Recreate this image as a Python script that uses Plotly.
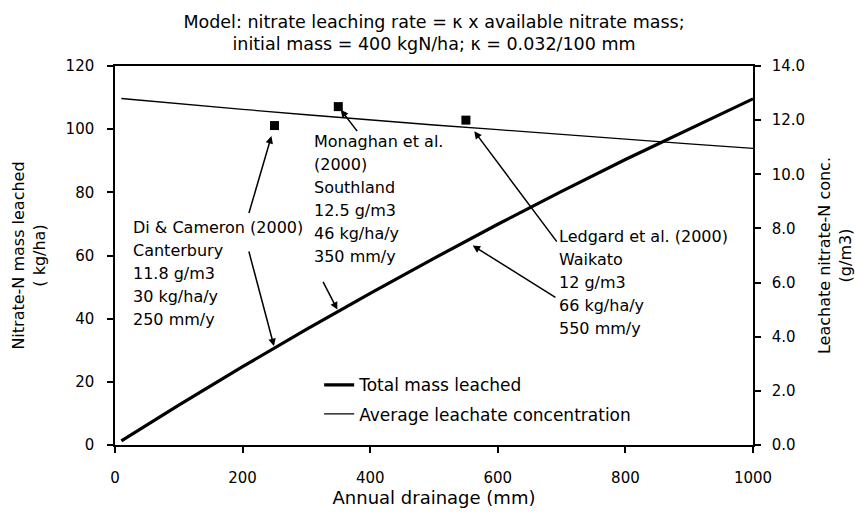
import numpy as np
import plotly.graph_objects as go

# Model curves
drainage_mm = [10, 100, 200, 300, 400, 500, 600, 700, 800, 900, 1000]
total_mass_leached = [1.3, 12.6, 24.8, 36.6, 48.0, 59.1, 69.9, 80.3, 90.4, 100.1, 109.6]
avg_leachate_conc = [12.8, 12.6, 12.4, 12.2, 12.0, 11.82, 11.65, 11.47, 11.3, 11.12, 10.96]

# Field observations
obs_names = ["Di & Cameron (2000)", "Monaghan et al. (2000)", "Ledgard et al. (2000)"]
obs_drainage = [250, 350, 550]
obs_conc = [11.8, 12.5, 12.0]

# Annotation text blocks
label_di = ["Di & Cameron (2000)", "Canterbury", "11.8 g/m3", "30 kg/ha/y", "250 mm/y"]
label_mon = ["Monaghan et al.", "(2000)", "Southland", "12.5 g/m3", "46 kg/ha/y", "350 mm/y"]
label_led = ["Ledgard et al. (2000)", "Waikato", "12 g/m3", "66 kg/ha/y", "550 mm/y"]

x_ticks = [0, 200, 400, 600, 800, 1000]
y_ticks = [0, 20, 40, 60, 80, 100, 120]
y2_ticks = [0, 2, 4, 6, 8, 10, 12, 14]

FONT = "DejaVu Sans, Arial, sans-serif"

fig = go.Figure()
fig.add_trace(go.Scatter(x=drainage_mm, y=total_mass_leached, mode="lines",
                         name="Total mass leached", line=dict(color="black", width=3.2),
                         legendgroup="a"))
fig.add_trace(go.Scatter(x=drainage_mm, y=avg_leachate_conc, mode="lines", yaxis="y2",
                         name="Average leachate concentration", line=dict(color="black", width=1.3),
                         legendgroup="b"))
fig.add_trace(go.Scatter(x=obs_drainage, y=obs_conc, mode="markers", yaxis="y2",
                         marker=dict(symbol="square", size=9, color="black"),
                         showlegend=False, text=obs_names))

mass_at_obs = np.interp(obs_drainage, drainage_mm, total_mass_leached)

annotations = []
# text blocks (left aligned, one annotation per line)
blocks = [(label_di, 25, 69.0), (label_mon, 309, 96.0), (label_led, 693, 66.0)]
for lines, bx, by in blocks:
    for i, t in enumerate(lines):
        annotations.append(dict(x=bx, y=by, xref="x", yref="y", text=t, showarrow=False,
                                xanchor="left", yanchor="middle", yshift=-23 * i,
                                font=dict(family=FONT, size=16, color="black")))

# arrows: (x, y, yref, ax, ay, standoff)
arrows = [
    (obs_drainage[0], obs_conc[0], "y2", -26, 89, 11),
    (obs_drainage[0], mass_at_obs[0], "y", -26, -98, 2),
    (obs_drainage[1], obs_conc[1], "y2", 20, 26, 4),
    (obs_drainage[1], mass_at_obs[1], "y", -16, -31, 2),
    (obs_drainage[2], obs_conc[2], "y2", 92, 123, 14),
    (obs_drainage[2], mass_at_obs[2], "y", 91, 57, 8),
]
for x, y, yr, ax, ay, so in arrows:
    annotations.append(dict(x=x, y=y, xref="x", yref=yr, text="", showarrow=True,
                            ax=ax, ay=ay, arrowhead=2, arrowsize=1, arrowwidth=1.5,
                            arrowcolor="black", standoff=so))

axis_common = dict(showgrid=False, zeroline=False, showline=True, linecolor="black",
                   linewidth=1.5, ticks="outside", ticklen=6, tickwidth=1.5,
                   tickcolor="black", automargin=False,
                   tickfont=dict(family=FONT, size=15, color="black"))

fig.update_layout(
    width=855, height=521,
    margin=dict(l=115, r=102, t=66, b=76, autoexpand=False),
    paper_bgcolor="white", plot_bgcolor="white",
    font=dict(family=FONT, size=16, color="black"),
    title=dict(text="Model: nitrate leaching rate = κ x available nitrate mass;<br>"
                    "initial mass = 400 kgN/ha; κ = 0.032/100 mm",
               x=0.5, xref="paper", xanchor="center", y=0.947, yref="container",
               yanchor="top", automargin=False,
               font=dict(family=FONT, size=17.5, color="black")),
    xaxis=dict(range=[0, 1000], tickvals=x_ticks, mirror=True, ticklabelstandoff=12,
               title=dict(text="Annual drainage (mm)", standoff=3,
                          font=dict(family=FONT, size=18)), **axis_common),
    yaxis=dict(range=[0, 120], tickvals=y_ticks, ticklabelstandoff=10,
               title=dict(text="Nitrate-N mass leached<br>( kg/ha)", standoff=16,
                          font=dict(family=FONT, size=16)), **axis_common),
    yaxis2=dict(range=[0, 14], tickvals=y2_ticks, tickformat=".1f", overlaying="y",
                side="right", ticklabelstandoff=8,
                title=dict(text="Leachate nitrate-N conc.<br>(g/m3)", standoff=15,
                           font=dict(family=FONT, size=16)), **axis_common),
    legend=dict(x=0.32, y=0.205, xanchor="left", yanchor="top", bgcolor="rgba(0,0,0,0)",
                tracegroupgap=4, font=dict(family=FONT, size=17, color="black")),
    annotations=annotations,
)

fig.write_html("out.html", config={"displayModeBar": False},
               post_script="document.body.style.margin='0px';")
